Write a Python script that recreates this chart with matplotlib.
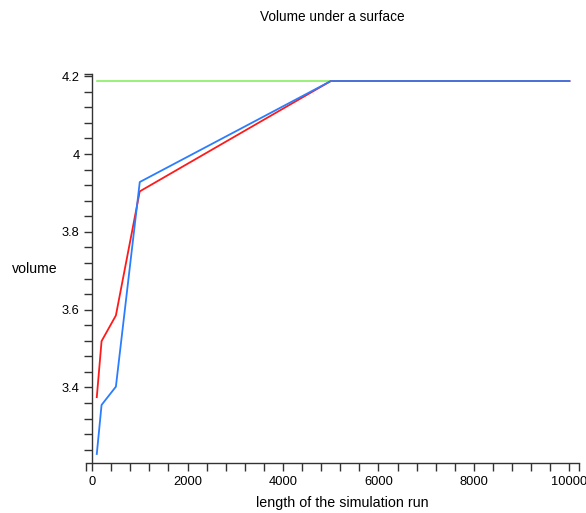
import numpy as np
import matplotlib
matplotlib.use("Agg")
from matplotlib import pyplot as plt
from matplotlib.ticker import FixedLocator

# run lengths and estimated volumes
run_length = [100, 200, 500, 1000, 5000, 10000]
volume_red = [3.375, 3.519, 3.585, 3.904, 4.1875, 4.1875]
volume_blue = [3.229, 3.355, 3.402, 3.928, 4.1875, 4.1875]
exact_x = [100, 10000]
exact_volume = [4.18879, 4.18879]

plt.rcParams['font.family'] = ['Liberation Sans', 'DejaVu Sans']

W, H = 586, 513
fig = plt.figure(figsize=(W / 100, H / 100), dpi=100)

# axes box in pixels
left, right, top, bottom = 86, 579, 73.5, 463.3
ax = fig.add_axes([left / W, 1 - bottom / H, (right - left) / W, (bottom - top) / H])

ax.plot(exact_x, exact_volume, color='#7ded55', lw=1.1)
ax.plot(run_length, volume_red, color='#ff1a1a', lw=1.3)
ax.plot(run_length, volume_blue, color='#2a7dff', lw=1.3)

xmin, xmax = -126, 10200
ymin, ymax = 3.205, 4.207
ax.set_xlim(xmin, xmax)
ax.set_ylim(ymin, ymax)

# Maple-style axes: y axis at x=0, x axis at bottom
ax.spines['top'].set_visible(False)
ax.spines['right'].set_visible(False)
ax.spines['left'].set_position(('data', 0))
for s in ['left', 'bottom']:
    ax.spines[s].set_color('#333333')
    ax.spines[s].set_linewidth(1.0)

ax.set_xticks([0, 2000, 4000, 6000, 8000, 10000])
ax.set_xticklabels(['0', '2000', '4000', '6000', '8000', '10000'])
ax.xaxis.set_minor_locator(FixedLocator(list(np.arange(400, 10001, 400)) + [xmin, xmax]))
ax.set_yticks([3.4, 3.6, 3.8, 4.0, 4.2])
ax.set_yticklabels(['3.4', '3.6', '3.8', '4', '4.2'])
ax.yaxis.set_minor_locator(FixedLocator(list(np.arange(3.24, 4.21, 0.04)) + [ymax]))

ax.tick_params(which='both', direction='out', colors='#333333', width=1.0,
               labelsize=9.3, labelcolor='black')
ax.tick_params(which='major', length=6, pad=3)
ax.tick_params(which='minor', length=6)

fig.text(332 / W, 1 - 17 / H, 'Volume under a surface', ha='center', va='center', fontsize=9.8)
fig.text(342 / W, 1 - 503 / H, 'length of the simulation run', ha='center', va='center', fontsize=10.3)
fig.text(35 / W, 1 - 269 / H, 'volume', ha='center', va='center', fontsize=10.2)

fig.savefig('out.png', dpi=100)
